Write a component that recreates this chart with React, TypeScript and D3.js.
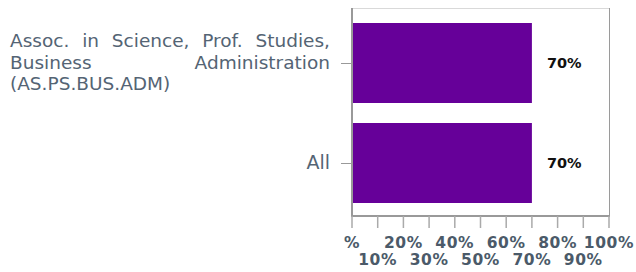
import React, { useRef, useLayoutEffect } from "react";
import * as d3 from "d3";

const categories = ["Assoc. in Science, Prof. Studies, Business Administration (AS.PS.BUS.ADM)", "All"];
const categoryLines = [
  ["Assoc. in Science, Prof. Studies,", "Business Administration", "(AS.PS.BUS.ADM)"],
  ["All"],
];
const values = [70, 70];
const valueLabels = ["70%", "70%"];
const tickValues = [0, 10, 20, 30, 40, 50, 60, 70, 80, 90, 100];
const tickLabels = ["%", "10%", "20%", "30%", "40%", "50%", "60%", "70%", "80%", "90%", "100%"];

const W = 636;
const H = 272;
const plot = { left: 352, right: 609, top: 8, bottom: 216 };
const labelLeft = 10;
const labelRight = 330;
const barColor = "#660099";
const labelColor = "#546474";
const tickColor = "#4b5a69";
const font = "'DejaVu Sans', Verdana, sans-serif";

const App = () => {
  const svgRef = useRef(null);

  const x = d3.scaleLinear().domain([0, 100]).range([plot.left, plot.right]);
  const y = d3.scaleBand().domain(categories).range([13, 213]).paddingInner(0.2).paddingOuter(0.1);

  // justify the wrapped category label lines (all but the last)
  useLayoutEffect(() => {
    const svg = d3.select(svgRef.current);
    svg.selectAll("text.justify").each(function () {
      const node = this;
      const txt = node.textContent || "";
      const spaces = (txt.match(/ /g) || []).length;
      if (!spaces) return;
      node.setAttribute("word-spacing", "0");
      const len = node.getComputedTextLength();
      node.setAttribute("word-spacing", String(Math.max(0, (labelRight - labelLeft - len) / spaces)));
    });
  }, []);

  return (
    <svg ref={svgRef} width={W} height={H} style={{ position: "absolute", left: 0, top: 0 }}>
      {/* frame */}
      <line x1={plot.left} x2={plot.right} y1={plot.top + 0.5} y2={plot.top + 0.5} stroke="#d9d9d9" />
      <line x1={plot.right + 0.5} x2={plot.right + 0.5} y1={plot.top} y2={plot.bottom} stroke="#9a9a9a" />

      {/* bars */}
      {categories.map((c, i) => (
        <rect key={c} x={x(0)} y={y(c)} width={x(values[i]) - x(0)} height={y.bandwidth()} fill={barColor} />
      ))}

      {/* value labels */}
      {categories.map((c, i) => (
        <text
          key={"v" + i}
          x={x(values[i]) + 15}
          y={(y(c) as number) + y.bandwidth() / 2 + 5}
          fontFamily={font}
          fontWeight="bold"
          fontSize={14.5}
          fill="#111"
        >
          {valueLabels[i]}
        </text>
      ))}

      {/* y axis */}
      <line x1={plot.left} x2={plot.left} y1={plot.top} y2={plot.bottom + 1} stroke="#999" strokeWidth={2} />
      {categories.map((c, i) => {
        const cy = (y(c) as number) + y.bandwidth() / 2;
        const lines = categoryLines[i];
        const lh = 21.5;
        const y0 = cy + 5.5 - ((lines.length - 1) * lh) / 2;
        return (
          <g key={"yl" + i}>
            <line x1={plot.left - 11} x2={plot.left - 1} y1={cy + 0.5} y2={cy + 0.5} stroke="#999" />
            {lines.length === 1 ? (
              <text x={labelRight} y={y0 + 0.5} textAnchor="end" fontFamily={font} fontSize={19} fill={labelColor}>
                {lines[0]}
              </text>
            ) : (
              lines.map((l, j) => (
                <text
                  key={j}
                  className={j < lines.length - 1 ? "justify" : undefined}
                  x={labelLeft}
                  y={y0 + j * lh}
                  fontFamily={font}
                  fontSize={18.5}
                  fill={labelColor}
                  style={{ whiteSpace: "pre" }}
                >
                  {l}
                </text>
              ))
            )}
          </g>
        );
      })}

      {/* x axis */}
      <line x1={plot.left - 1} x2={plot.right + 1} y1={plot.bottom} y2={plot.bottom} stroke="#999" strokeWidth={2} />
      {tickValues.map((t, i) => (
        <g key={"t" + t}>
          <line x1={x(t)} x2={x(t)} y1={plot.bottom} y2={plot.bottom + 12} stroke="#aaa" strokeWidth={1.5} />
          <text
            x={x(t)}
            y={i % 2 === 0 ? 248 : 265}
            textAnchor="middle"
            fontFamily={font}
            fontWeight="bold"
            fontSize={15.5}
            letterSpacing={0.6}
            fill={tickColor}
          >
            {tickLabels[i]}
          </text>
        </g>
      ))}
    </svg>
  );
};

export default App;
